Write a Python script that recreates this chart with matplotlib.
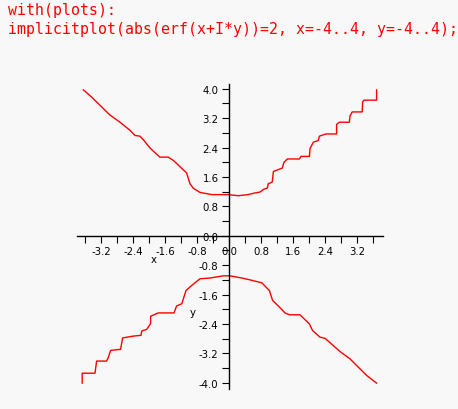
import matplotlib
matplotlib.use("Agg")
import matplotlib.pyplot as plt
from matplotlib.ticker import MultipleLocator, FuncFormatter

# upper branch of |erf(x+I*y)| = 2
upper_x = [-3.64, -3.43, -2.98, -2.725, -2.475, -2.35, -2.225, -2.125, -1.975, -1.85,
           -1.725, -1.52, -1.39, -1.06, -0.975, -0.89, -0.725, -0.43, -0.02, 0.23,
           0.48, 0.625, 0.775, 0.86, 0.96, 0.98, 1.08, 1.11, 1.23, 1.33,
           1.375, 1.46, 1.76, 1.8, 2.01, 2.025, 2.11, 2.23, 2.26, 2.42,
           2.69, 2.69, 2.76, 3.01, 3.025, 3.08, 3.33, 3.34, 3.375, 3.69, 3.69]
upper_y = [3.97, 3.77, 3.29, 3.09, 2.87, 2.73, 2.71, 2.59, 2.39, 2.26,
           2.14, 2.14, 2.05, 1.71, 1.415, 1.29, 1.18, 1.12, 1.12, 1.09,
           1.12, 1.16, 1.19, 1.26, 1.30, 1.415, 1.46, 1.75, 1.80, 1.84,
           2.0, 2.09, 2.09, 2.16, 2.16, 2.37, 2.55, 2.59, 2.71, 2.77,
           2.77, 3.03, 3.09, 3.09, 3.26, 3.37, 3.37, 3.64, 3.69, 3.69, 3.97]

# lower branch
lower_x = [-3.67, -3.67, -3.35, -3.31, -3.06, -3.02, -2.96, -2.71, -2.66, -2.39,
           -2.2, -2.18, -2.06, -1.96, -1.96, -1.77, -1.375, -1.31, -1.18, -1.075,
           -0.93, -0.725, -0.475, -0.14, 0.025, 0.32, 0.525, 0.82, 1.01, 1.09,
           1.26, 1.4, 1.51, 1.775, 2.01, 2.09, 2.275, 2.4, 2.775, 3.025, 3.44, 3.69]
lower_y = [-4.01, -3.74, -3.74, -3.41, -3.41, -3.32, -3.12, -3.09, -2.78, -2.73,
           -2.71, -2.59, -2.55, -2.39, -2.19, -2.10, -2.10, -1.91, -1.85, -1.49,
           -1.35, -1.17, -1.15, -1.09, -1.09, -1.15, -1.20, -1.28, -1.49, -1.76,
           -1.94, -2.10, -2.15, -2.15, -2.40, -2.58, -2.76, -2.79, -3.15, -3.35, -3.80, -4.01]

cmd_lines = ["with(plots):",
             "implicitplot(abs(erf(x+I*y))=2, x=-4..4, y=-4..4);"]

bg = "#f8f8f8"
fig = plt.figure(figsize=(4.58, 4.10), dpi=100, facecolor=bg)

# Maple input lines in red
fig.text(8 / 458, 1 - 15 / 410, cmd_lines[0], color="red", family="DejaVu Sans Mono",
         fontsize=10.7, va="baseline", ha="left")
fig.text(8 / 458, 1 - 34 / 410, cmd_lines[1], color="red", family="DejaVu Sans Mono",
         fontsize=10.7, va="baseline", ha="left")

ax = fig.add_axes([77 / 458, 20 / 410, 306 / 458, 305 / 410], facecolor=bg)
ax.plot(upper_x, upper_y, color="red", lw=1)
ax.plot(lower_x, lower_y, color="red", lw=1)

ax.set_xlim(-3.8, 3.85)
ax.set_ylim(-4.17, 4.13)

# axes through the origin
for s in ["top", "right"]:
    ax.spines[s].set_visible(False)
ax.spines["left"].set_position(("data", 0))
ax.spines["bottom"].set_position(("data", 0))
ax.spines["left"].set_linewidth(1)
ax.spines["bottom"].set_linewidth(1)

ax.xaxis.set_major_locator(MultipleLocator(0.8))
ax.xaxis.set_minor_locator(MultipleLocator(0.4))
ax.yaxis.set_major_locator(MultipleLocator(0.8))
ax.yaxis.set_minor_locator(MultipleLocator(0.4))
fmt = FuncFormatter(lambda v, p: "%.1f" % v if abs(v) > 1e-9 else "0.0")
ax.xaxis.set_major_formatter(fmt)
ax.yaxis.set_major_formatter(fmt)
ax.tick_params(which="both", direction="out", length=5, width=0.8, labelsize=7.3,
               pad=2.5, colors="black")
ax.set_xticks([t for t in ax.get_xticks() if -3.5 < t < 3.5])
ax.set_yticks([t for t in ax.get_yticks() if -4.05 < t < 4.05])

ax.text(-1.875, -0.63, "x", fontsize=7.3, ha="center", va="center")
ax.text(-0.9, -2.08, "y", fontsize=7.3, ha="center", va="center")

fig.savefig("out.png", dpi=100, facecolor=bg)
